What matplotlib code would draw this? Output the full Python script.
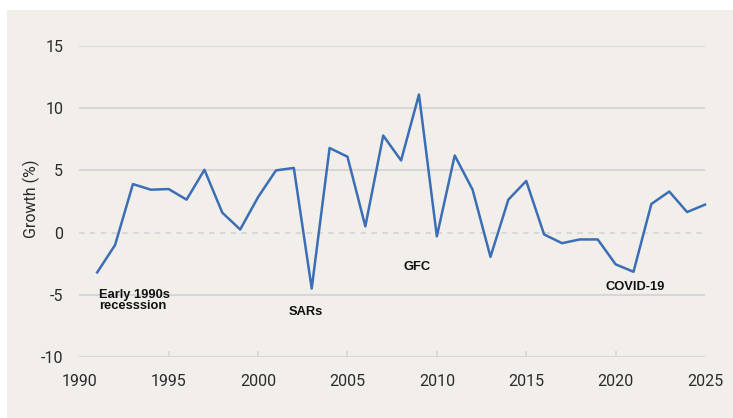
import matplotlib.pyplot as plt
from matplotlib.patches import Rectangle

years = list(range(1991, 2026))
growth = [-3.2, -1.0, 3.9, 3.45, 3.5, 2.65, 5.05, 1.6, 0.25, 2.85,
          5.0, 5.2, -4.5, 6.8, 6.1, 0.5, 7.8, 5.8, 11.1, -0.3,
          6.2, 3.45, -1.95, 2.65, 4.15, -0.15, -0.85, -0.55, -0.55, -2.55,
          -3.15, 2.3, 3.3, 1.65, 2.25]

xticks = [1990, 1995, 2000, 2005, 2010, 2015, 2020, 2025]
yticks = [-10, -5, 0, 5, 10, 15]

events = ["Early 1990s\nrecesssion", "SARs", "GFC", "COVID-19"]
event_x = [1991.1, 2002.69, 2008.9, 2021.08]
event_y = [-4.5, -6.35, -2.73, -4.37]

bg = '#f2efeb'
grid_col = '#d6d6d6'
blue = '#3b6eb5'

fig = plt.figure(figsize=(7.33, 4.18), dpi=100, facecolor='white')
panel = Rectangle((7 / 733, 0), 1, 408 / 418, transform=fig.transFigure,
                  facecolor=bg, edgecolor='none', zorder=-10)
fig.add_artist(panel)

ax = fig.add_axes([79.3 / 733, 61 / 418, 625.7 / 733, 311 / 418])
ax.set_zorder(1)
ax.set_facecolor('none')
for s in ax.spines.values():
    s.set_visible(False)

for v in yticks:
    if v == 0:
        ax.axhline(v, color=grid_col, lw=1.3, ls=(0, (3, 3)), zorder=1)
    else:
        ax.axhline(v, color=grid_col, lw=1.5, zorder=1)

ax.plot(years, growth, color=blue, lw=1.8, zorder=3, clip_on=False)

ax.set_xlim(1990, 2025)
ax.set_ylim(-10, 15)
ax.set_xticks(xticks)
ax.set_yticks(yticks)
ax.set_yticklabels([str(v) for v in yticks])

tick_font = dict(family='Roboto', size=11.5, color='#2b2b2b')
for lab in ax.get_xticklabels() + ax.get_yticklabels():
    lab.set_fontfamily('Roboto')
    lab.set_fontsize(11.5)
    lab.set_color('#2b2b2b')

ax.tick_params(axis='x', direction='in', length=4, width=1.2, color=grid_col, pad=12)
ax.tick_params(axis='y', length=0, pad=11.5)
xt = ax.xaxis.get_major_ticks()
for t in (xt[0], xt[-1]):
    t.tick1line.set_visible(False)

ax.set_ylabel('Growth (%)', **tick_font)
ax.yaxis.set_label_coords(-0.063, 0.51)

for txt, x, y in zip(events, event_x, event_y):
    if '\n' in txt:
        ax.text(x, y, txt, ha='left', va='top', fontsize=9.3, fontweight='bold',
                family='Liberation Sans', color='#111111', linespacing=0.9, zorder=4)
    else:
        ax.text(x, y, txt, ha='center', va='center', fontsize=9.3, fontweight='bold',
                family='Liberation Sans', color='#111111', zorder=4)

fig.savefig('out.png', dpi=100, facecolor='white')
